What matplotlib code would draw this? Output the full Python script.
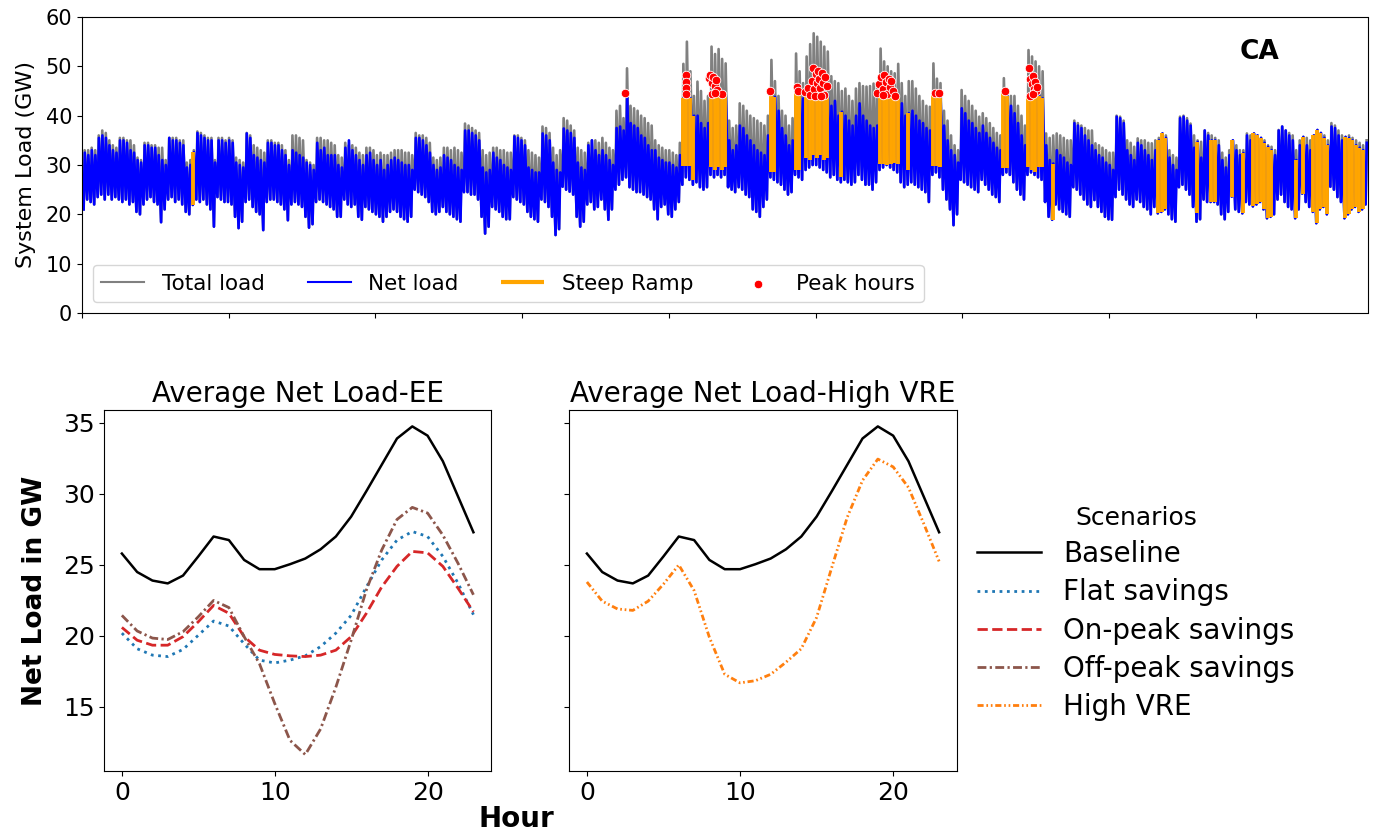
import numpy as np
import matplotlib
matplotlib.use("Agg")
import matplotlib.pyplot as plt

# ---------------- Top panel: daily extremes (GW) ----------------
# total_peak: daily maximum of total load; net_peak / net_trough: daily max / min of net load
total_peak = [
    33, 33, 33.5, 33, 36, 37, 36.5, 35, 34, 33.5,
    35.5, 35.5, 35, 35, 34, 31.5, 31, 34.5, 34.5, 34,
    34, 33.5, 33.5, 31, 35.5, 35.5, 35.5, 35, 35, 30.5,
    31, 33, 36.8, 36.5, 36, 35.5, 35.5, 31, 35.5, 35.5,
    35, 35.5, 35, 31.5, 31, 30.5, 36.5, 36, 34, 33.5,
    33, 32.5, 35, 35, 34.5, 34.5, 34, 33, 31, 36,
    36, 35.5, 35, 31, 30.5, 30, 35.5, 35.5, 35, 35,
    34.5, 34, 32, 31.5, 34.5, 34, 34, 33.5, 32.5, 32,
    33.5, 33.5, 33, 32, 32.5, 32, 32, 32.5, 33, 33,
    33, 32.5, 32.5, 32, 36.5, 36, 36, 35.5, 34.5, 31.5,
    31, 31.5, 33.5, 33.5, 33, 33.5, 33, 32.5, 38.4, 38,
    37.5, 37, 36.5, 33, 32, 32.5, 33.5, 33.5, 33, 33,
    32.5, 32.5, 36, 36, 35.5, 35, 33, 32.5, 32, 31.5,
    37.8, 37.5, 36.5, 33.5, 32, 33, 39.5, 39, 38, 37,
    33.5, 33, 32.5, 34.5, 35, 35, 34.5, 35.5, 34.5, 33.5,
    33, 41, 42, 39.5, 49.6, 42, 41.5, 41, 40, 39.5,
    38.5, 38, 35, 34, 33.5, 33, 33, 32.5, 32, 34.5,
    50.5, 55, 49, 44, 46.9, 45, 43, 44, 54, 52.5,
    53.5, 51.5, 50.6, 39, 37.5, 38, 42.5, 42, 41, 40,
    39.5, 39, 38.5, 38, 40, 51.3, 47, 44, 41, 40,
    38, 39.5, 52.6, 49, 46.6, 52, 54.5, 56.7, 56, 55,
    54, 53, 48, 47, 46.6, 45, 45.5, 44, 43, 45.5,
    46.6, 46, 45.9, 46, 46.5, 46, 53.6, 51, 50, 49,
    48.6, 50.5, 46.6, 44, 47, 47, 45.5, 44, 43, 42,
    41.8, 50.6, 47.5, 46.6, 41, 39, 36, 34, 33, 45.2,
    44, 43, 42, 41, 39.8, 40.5, 39.5, 38.5, 37.5, 36.5,
    36, 47.6, 45, 44, 44, 42, 40, 38, 53.3, 52,
    51, 50, 49, 36.4, 35.5, 36, 36.4, 36, 35.5, 35,
    35, 39, 38.5, 38, 37.5, 37, 37, 34.4, 34, 33.5,
    33, 32.5, 32.5, 40, 39.8, 39, 35, 34.5, 33.7, 35.4,
    35, 35, 34.5, 34.4, 35, 35.5, 36.4, 36, 33, 32,
    31.5, 39.8, 40, 39.5, 38.4, 36, 35, 34.7, 37, 36.5,
    36, 35.5, 35, 32.5, 31.5, 33, 35, 34, 33, 33,
    36.4, 36, 36.4, 36, 35.5, 35, 34, 33.7, 33, 37.1,
    37.8, 37, 36.5, 36, 33, 35, 35.7, 35.5, 35, 36,
    37.1, 36.5, 36, 35, 38.5, 38, 37, 36, 35.7, 36,
    35.5, 35, 34.5, 34, 35,
]
net_peak = [
    32.5, 32, 33, 32, 35.5, 36, 35.5, 34, 33, 32.5,
    35, 35, 34.5, 33, 32.5, 31, 30.5, 34, 34, 33.5,
    33.5, 32, 31, 30, 35.5, 35, 35, 34.5, 34, 29.5,
    30, 32.6, 36.5, 36, 35.5, 35, 35, 30.5, 35, 35,
    34.5, 35, 34.5, 30.5, 30, 29.5, 36.4, 35.5, 32, 31.5,
    31, 30.5, 34.5, 34.5, 34, 34, 33, 32, 30, 33,
    32.5, 32, 31.5, 30.5, 30, 29, 34.5, 33, 33.5, 32,
    32, 32, 30, 29.5, 33.5, 35, 33, 32, 31, 30,
    32, 32.5, 31, 30, 31, 29, 30, 31, 31.5, 31,
    30.5, 30, 30, 29, 35.5, 35.5, 35, 34, 32.5, 30,
    29, 29.5, 32, 31.5, 31, 30, 29.5, 29, 37, 37,
    36.5, 36, 35, 29.5, 28.5, 29, 32.5, 31.5, 31, 30,
    29.5, 29, 35.8, 35.5, 35, 34, 29.5, 29, 28.5, 28.5,
    36.4, 36, 35, 30.5, 29, 28.5, 37.4, 37, 36.5, 35.5,
    30.5, 29.5, 29, 34, 35, 33, 32, 33, 32, 31,
    30, 37.5, 37.8, 37, 44.5, 38.5, 38, 37.5, 36, 35.5,
    34, 33, 33, 31.5, 31, 30.5, 30.5, 30, 29.5, 32,
    43.5, 44.5, 43.5, 40, 40, 38.5, 37.5, 38.5, 43.9, 44.2,
    43.9, 43.8, 44.3, 35, 33, 34, 38, 37.5, 36, 35,
    34, 33, 32.5, 32, 36, 44.9, 43.8, 41, 37.5, 36,
    34, 35, 45.9, 44.9, 43.5, 44.8, 45.6, 44.5, 44.2, 44,
    44.2, 44.2, 42, 43, 40, 40.8, 40, 39, 38, 40,
    42.5, 40, 39, 38, 37.5, 38, 44.2, 44.2, 44.2, 44.2,
    44.2, 44.2, 42.5, 40, 40.5, 41, 40, 39, 38.5, 37.5,
    37, 44.2, 44.2, 43.5, 38, 35, 33, 32, 30.5, 41.5,
    40.5, 39, 38.5, 37.5, 36.5, 38, 36.5, 35.5, 34.5, 33.5,
    33, 44.9, 43.9, 42, 40.5, 38.5, 36, 34, 44, 44,
    44, 44, 43.5, 34, 31, 30.3, 33, 32, 31.5, 30.5,
    30, 38.5, 38, 37.5, 36, 35, 34, 33, 32, 31.5,
    30.5, 30, 29, 39.8, 39.5, 38.5, 33, 32, 31, 34.5,
    34, 33, 32, 31, 33, 35, 36.4, 35.5, 31.5, 30,
    29, 39.5, 39.8, 39, 38, 33.5, 34.7, 31.5, 37, 36,
    35, 35, 34, 31, 29.5, 32, 35, 33, 32, 32.4,
    36, 35, 36.4, 36, 35.5, 34.5, 33.7, 33, 32, 37,
    37.8, 37, 36, 35, 31, 34, 35.7, 34, 33, 36,
    37.1, 36.5, 35.5, 34, 37.8, 37.5, 36, 35, 35.7, 35.5,
    35, 34, 33.5, 33, 34.5,
]
net_trough = [
    21, 23, 22.5, 22, 23.5, 24, 23, 24, 23, 23.5,
    23, 22.5, 23, 22, 22.5, 20.5, 20, 22, 23, 23.5,
    22.5, 22, 18.4, 21, 23, 23.5, 22.5, 23, 22, 20.5,
    20, 21.9, 23, 22.5, 23, 22, 21, 17.5, 23.5, 23,
    22.5, 22.5, 22, 19.5, 17.2, 18.5, 22.5, 23, 21.5, 20.5,
    20, 16.8, 22.5, 23, 23, 22.5, 22, 21, 18.8, 22,
    22.5, 22, 21.5, 19.5, 17.3, 18, 22.5, 23, 22.5, 22,
    21.5, 21, 19.5, 19.5, 23, 22, 21.5, 22, 19.5, 18.9,
    21.5, 21, 20.5, 20, 19.5, 18.5, 19.5, 20.5, 21, 20.5,
    19.5, 19, 18.5, 19.5, 25, 24.5, 24, 23.5, 22.5, 20.5,
    20, 20.5, 21.5, 20.5, 20, 19.5, 19, 18.5, 24.5, 24.5,
    24, 24, 23, 19.5, 16.1, 17.5, 21.5, 21, 20.5, 19.5,
    19, 19, 23.5, 23, 22.5, 22, 20.5, 19.5, 19, 18.5,
    23, 22.5, 21.5, 19.5, 15.8, 17, 25.6, 25, 24.6, 24,
    19.5, 17.5, 18.5, 22, 22.5, 21, 21.5, 23, 21, 18.9,
    21, 25, 26, 27, 27.5, 25.5, 25, 24.5, 24.5, 24,
    23.5, 23, 21, 19, 21.5, 22, 20, 19.5, 21, 22.5,
    26, 27.5, 27, 26, 26.5, 25.5, 25, 25.5, 28, 27.5,
    28, 27.5, 28, 25.5, 25, 24.5, 25.5, 25, 24, 23.5,
    21, 20.5, 19.5, 21.5, 23, 27.5, 27, 26.5, 26, 25,
    24, 24.5, 28, 27.5, 27, 29, 29.5, 30, 30, 29.5,
    29, 28.5, 27.5, 28, 27, 26.5, 27, 26.5, 26, 26.5,
    28, 27, 26, 26, 25, 26.5, 29, 29.5, 30, 29.5,
    29, 28.5, 26.5, 25.5, 26, 26.5, 26, 25.5, 25, 24.5,
    22.5, 28, 28.5, 27.5, 25, 23, 21, 17.8, 20, 27,
    26.5, 26, 25.5, 25, 24.5, 27, 26, 25, 24, 23.5,
    22.5, 28, 28.5, 28, 26.5, 25, 24, 23, 28, 28.5,
    28, 27.5, 27, 22.5, 19.5, 18.9, 22, 21, 20.5, 20,
    19.5, 25.5, 25, 24, 23, 22, 21.5, 22.9, 21.5, 20.5,
    19.5, 19, 18.9, 23.5, 25, 24, 23, 22, 21.5, 23,
    22.5, 21.5, 21, 20, 21.5, 20.2, 20.5, 21, 20, 19,
    18.5, 25.5, 26, 25, 24, 21.5, 18.5, 19, 23, 22.5,
    22.5, 22.5, 22, 20, 19, 20.5, 23.6, 21, 20.5, 20.2,
    22.5, 22, 21.6, 22, 22.5, 21, 19.2, 19.5, 20, 23,
    24, 22.5, 21.5, 21, 19.2, 21, 24.2, 22.5, 21.5, 20.5,
    18.2, 21, 21.5, 20, 25.6, 25, 23.5, 22.5, 19.2, 20,
    21, 21.5, 20.5, 21, 22,
]
# Steep-ramp days and the net load at the start of each ramp (GW)
ramp_day = [31, 170, 171, 172, 173, 178, 179, 180, 181, 182, 195, 196, 202, 203,
            205, 206, 207, 208, 209, 210, 211, 215, 226, 227, 228, 229, 230, 231,
            234, 241, 242, 243, 261, 262, 268, 269, 270, 271, 272, 275,
            305, 306, 307, 316, 320, 321, 326, 329, 332, 333, 334, 335, 336, 337,
            344, 346, 349, 350, 351, 352, 353, 358, 359, 360, 361, 362, 363]
ramp_low = [21.9, 29.7, 29.7, 29.7, 27.0, 29.5, 29, 29.5, 29, 29.5, 28.6, 28.6, 29, 29,
            31.5, 31, 32, 31.5, 32, 31, 31.5, 27.6, 30.3, 30.3, 30, 30.3, 30.5, 30.3,
            29, 29.7, 29.7, 29.5, 29.3, 29.3, 29.5, 29, 28.5, 29.5, 29.5, 18.9,
            20.2, 20.5, 21, 20.2, 22.5, 22.5, 23.6, 20.2, 21.6, 22, 22.5, 21, 19.2, 19.5,
            19.2, 24.2, 20.5, 18.2, 21, 21.5, 20, 19.2, 20, 21, 21.5, 20.5, 21]
# Peak hours (position in days, net load GW)
peak_day = [154.3,
            171.4, 171.4, 171.4, 171.4,
            177.9, 178.3, 178.8, 179.2, 179.6, 180.0, 180.3, 178.8, 181.6, 179.6,
            195.3, 203.0, 203.3,
            205.3, 206.0, 206.6, 207.2, 207.5, 207.8, 208.3, 208.6, 209.0, 209.2,
            209.6, 210.0, 210.3, 210.8, 211.0, 211.4, 208.2, 209.8,
            225.8, 226.3, 226.8, 227.3, 227.7, 228.2, 228.6, 229.0, 229.4, 229.8,
            230.3, 230.8, 227.5,
            242.2, 243.2, 262.2,
            269.0, 269.2, 269.6, 270.0, 270.3, 270.6, 269.1, 270.9, 270.0, 271.2]
peak_gw = [44.5,
           48.2, 46.9, 45.6, 44.4,
           47.6, 48.3, 46.6, 47.9, 46.0, 47.2, 45.3, 44.4, 44.4, 44.6,
           44.9, 45.9, 44.9,
           44.8, 45.6, 44.2, 47.0, 49.6, 45.4, 48.5, 46.6, 49.0, 47.4,
           45.6, 48.6, 46.6, 44.1, 47.8, 46.0, 44.0, 44.0,
           44.6, 46.5, 47.8, 45.5, 48.3, 46.8, 44.3, 47.5, 45.8, 47.0,
           45.0, 43.9, 44.2,
           44.5, 44.5, 44.9,
           49.7, 47.5, 46.5, 48.0, 45.5, 46.8, 44.0, 45.0, 44.3, 45.8]

# ---------------- Bottom panels: average daily profiles (GW) ----------------
hours = list(range(24))
baseline = [25.8, 24.5, 23.9, 23.7, 24.25, 25.6, 27.0, 26.75, 25.35, 24.7, 24.7, 25.05,
            25.45, 26.1, 27.0, 28.4, 30.2, 32.05, 33.9, 34.75, 34.1, 32.3, 29.8, 27.3]
flat_savings = [20.2, 19.1, 18.65, 18.55, 19.05, 20.05, 21.05, 20.7, 19.45, 18.3, 18.1, 18.3,
                18.6, 19.25, 20.2, 21.45, 23.45, 25.35, 26.75, 27.35, 27.0, 25.6, 23.7, 21.5]
on_peak = [20.6, 19.7, 19.35, 19.35, 19.95, 21.0, 22.15, 21.6, 19.95, 19.0, 18.7, 18.6,
           18.55, 18.65, 19.0, 19.95, 21.6, 23.45, 24.9, 25.95, 25.85, 24.9, 23.35, 21.7]
off_peak = [21.45, 20.35, 19.85, 19.75, 20.3, 21.35, 22.5, 22.0, 19.95, 18.05, 15.25, 12.65,
            11.65, 13.45, 16.4, 19.7, 23.25, 26.05, 28.2, 29.05, 28.65, 27.1, 25.1, 22.9]
high_vre = [23.8, 22.45, 21.9, 21.8, 22.45, 23.65, 25.0, 23.2, 19.9, 17.3, 16.7, 16.85,
            17.3, 18.15, 19.1, 21.3, 24.85, 28.35, 30.95, 32.45, 31.9, 30.45, 27.9, 25.25]

W, H = 1376, 834
fig = plt.figure(figsize=(W / 100, H / 100), dpi=100)


def rect(l, t, r, b):
    return [l / W, 1 - b / H, (r - l) / W, (b - t) / H]


# ---------------- top axes ----------------
ax = fig.add_axes(rect(82, 17, 1367.5, 313))
n = min(len(total_peak), len(net_peak), len(net_trough))
days = np.arange(n)
tp = np.asarray(total_peak[:n], float)
npk = np.asarray(net_peak[:n], float)
ntr = np.asarray(net_trough[:n], float)

x_net = np.empty(2 * n)
x_net[0::2] = 24 * days + 11
x_net[1::2] = 24 * days + 19
y_net = np.empty(2 * n)
y_net[0::2] = ntr
y_net[1::2] = npk
x_tot = np.empty(2 * n)
x_tot[0::2] = 24 * days + 11
x_tot[1::2] = 24 * days + 18
y_tot = np.empty(2 * n)
y_tot[0::2] = ntr
y_tot[1::2] = tp

l_tot, = ax.plot(x_tot, y_tot, color="grey", lw=1.9, label="Total load", zorder=1)
l_net, = ax.plot(x_net, y_net, color="blue", lw=1.9, label="Net load", zorder=2)
rd = np.asarray(ramp_day, int)
ax.vlines(24 * rd + 15, ramp_low, npk[rd], color="orange", lw=2.8,
          label="Steep Ramp", zorder=3)
ax.scatter(np.asarray(peak_day) * 24, peak_gw, s=38, color="red",
           edgecolors="white", linewidths=0.6, zorder=4, label="Peak hours")

ax.set_xlim(0, 8760)
ax.set_ylim(0, 60)
ax.set_xticks(range(0, 8001, 1000))
ax.set_yticks(range(0, 61, 10))
ax.tick_params(labelbottom=False)
ax.tick_params(axis="y", labelsize=15)
ax.set_ylabel("System Load (GW)", fontsize=16)
ax.yaxis.set_label_coords(-0.036, 0.5)
leg = ax.legend(loc="lower left", ncol=4, fontsize=15.5)
for lh in leg.legend_handles[:2]:
    lh.set_linewidth(1.5)
leg.legend_handles[2].set_linewidth(3.0)
ax.text(0.916, 0.882, "CA", transform=ax.transAxes, fontsize=19,
        fontweight="bold", ha="center", va="center")

# ---------------- bottom axes ----------------
ax1 = fig.add_axes(rect(104.3, 410, 491, 771))
ax2 = fig.add_axes(rect(569.3, 410, 956.7, 771), sharey=ax1)

h_base, = ax1.plot(hours, baseline, color="black", lw=1.8, label="Baseline")
h_flat, = ax1.plot(hours, flat_savings, color="#1f77b4", lw=2, ls=":", label="Flat savings")
h_on, = ax1.plot(hours, on_peak, color="#d62728", lw=2, ls="--", label="On-peak savings")
h_off, = ax1.plot(hours, off_peak, color="#8c564b", lw=2, dashes=(3.2, 1.2, 0.8, 1.2),
                  label="Off-peak savings")
ax2.plot(hours, baseline, color="black", lw=1.8)
h_vre, = ax2.plot(hours, high_vre, color="#ff7f0e", lw=2,
                  dashes=(2.2, 1.0, 0.6, 1.0, 0.6, 1.0), label="High VRE")

for a in (ax1, ax2):
    a.set_xticks([0, 10, 20])
    a.tick_params(labelsize=18)
ax1.set_yticks([15, 20, 25, 30, 35])
ax2.tick_params(labelleft=False)

ax1.set_title("Average Net Load-EE", fontsize=20)
ax2.set_title("Average Net Load-High VRE", fontsize=20)
ax1.set_ylabel("Net Load in GW", fontsize=19, fontweight="bold")
ax1.yaxis.set_label_coords(-0.146, 0.5)
fig.text(516 / W, 1 - 819 / H, "Hour", fontsize=20, fontweight="bold",
         ha="center", va="center")

fig.legend([h_base, h_flat, h_on, h_off, h_vre],
           ["Baseline", "Flat savings", "On-peak savings", "Off-peak savings", "High VRE"],
           title="Scenarios", loc="center left", bbox_to_anchor=(966 / W, 1 - 613.5 / H),
           frameon=False, fontsize=20, title_fontsize=18, handlelength=2.3,
           labelspacing=0.37, borderaxespad=0)

fig.savefig("out.png", dpi=100)
